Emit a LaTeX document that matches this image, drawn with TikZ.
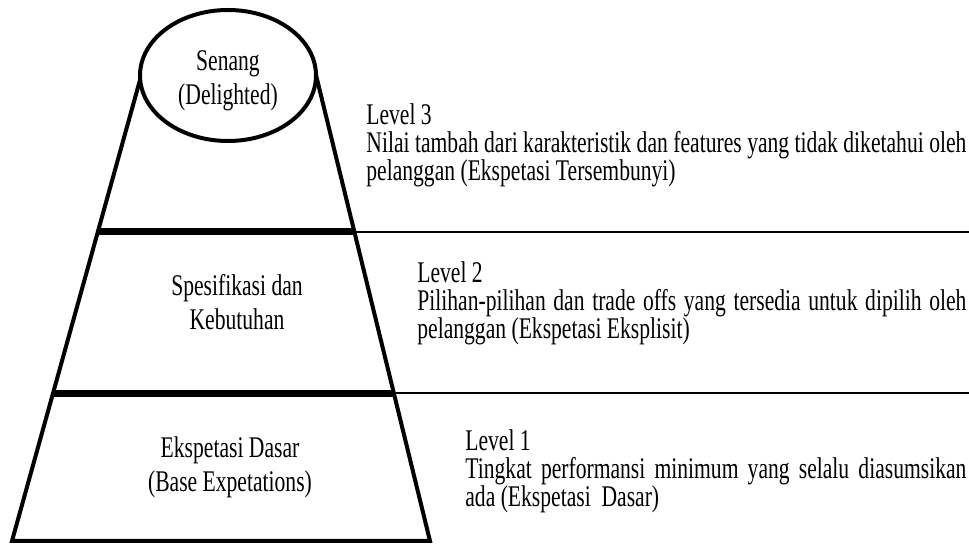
\documentclass[tikz,border=0pt]{standalone}
\usepackage{fontspec}
\setmainfont[FakeStretch = 0.72]{Liberation Serif}
\usetikzlibrary{shapes.geometric}
\tikzstyle{levelText}=[anchor = north west, inner sep = 0pt, align = left, font = \fontsize{15pt}{14pt}\selectfont]
\tikzstyle{tierText}=[inner sep = 0pt, align = center, font = \fontsize{15pt}{17pt}\selectfont]
\newcommand{\spreadLine}[2]{\makebox[#1][s]{#2}}

\begin{document}
\begin{tikzpicture}[x = 0.5pt, y = -0.5pt]
\tikzstyle{sideLine}=[line width = 2pt, line join = miter]
\tikzstyle{tierLine}=[line width = 3.5pt]
\tikzstyle{guideLine}=[line width = 1pt]
\useasboundingbox (0,0) rectangle (969,544);
\node[shape = ellipse, draw, line width = 2pt, minimum width = 88pt, minimum height = 65.5pt] (top) at (228,75.5) {};
\node[tierText] (t3) at (228,81) {Senang\\(Delighted)};
\node[tierText] (t2) at (237,302) {Spesifikasi dan\\Kebutuhan};
\node[tierText] (t1) at (230,467) {Ekspetasi Dasar\\(Base Expetations)};
\coordinate (a1) at (140,80);
\coordinate (a2) at (12,541);
\coordinate (b1) at (316,75);
\coordinate (b2) at (430,541);
\coordinate (c1) at (98,232);
\coordinate (c2) at (354,232);
\coordinate (c3) at (969,232);
\coordinate (d1) at (53,393.5);
\coordinate (d2) at (394,393.5);
\coordinate (d3) at (969,393.5);
\draw[sideLine] (a1) -- (a2) -- (b2) -- (b1);
\draw[tierLine] (c1) -- (c2);
\draw[guideLine] (c2) -- (c3);
\draw[tierLine] (d1) -- (d2);
\draw[guideLine] (d2) -- (d3);
\node[levelText] (l3) at (366,103) {Level 3\\\spreadLine{300pt}{Nilai tambah dari karakteristik dan features yang tidak diketahui oleh}\\pelanggan (Ekspetasi Tersembunyi)};
\node[levelText] (l2) at (417,261) {Level 2\\\spreadLine{274.5pt}{Pilihan-pilihan dan trade offs yang tersedia untuk dipilih oleh}\\pelanggan (Ekspetasi Eksplisit)};
\node[levelText] (l1) at (465,429) {Level 1\\\spreadLine{250.5pt}{Tingkat performansi minimum yang selalu diasumsikan}\\ada (Ekspetasi\ \ Dasar)};
\end{tikzpicture}
\end{document}
